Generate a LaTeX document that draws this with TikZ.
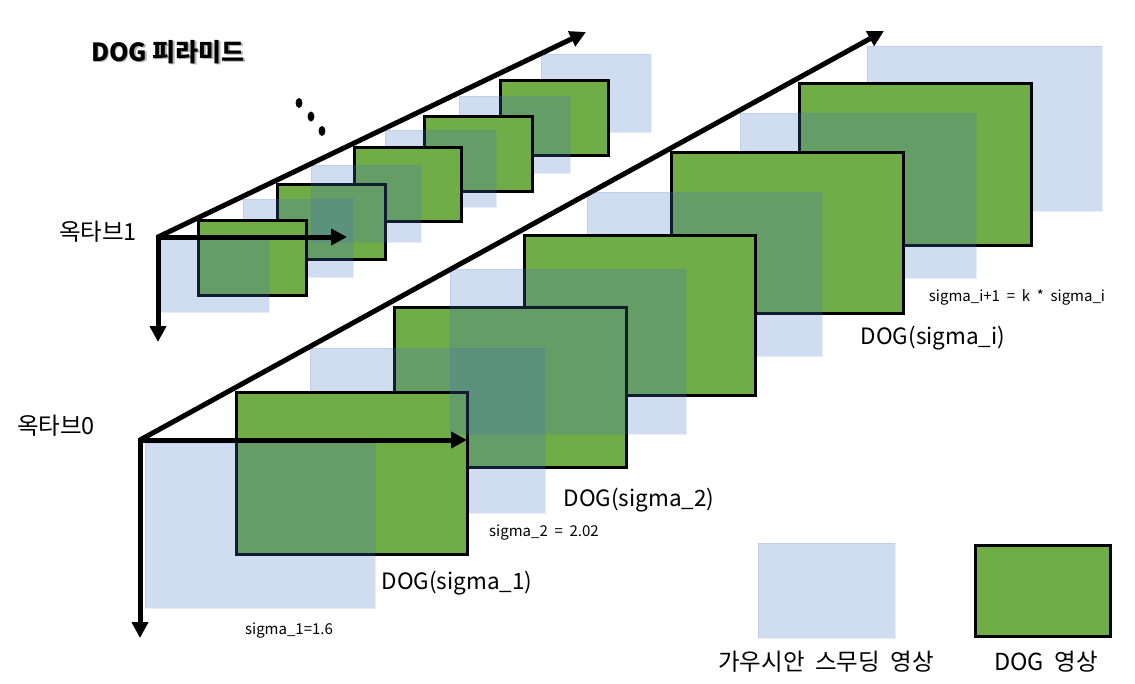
\documentclass[tikz,border=0pt]{standalone}
\usepackage{fontspec}
\setmainfont{Noto Sans CJK KR}
\usetikzlibrary{arrows.meta}
\definecolor{dgreen}{HTML}{70AD47}
\definecolor{gblue}{HTML}{4472C4}
\tikzset{
  gauss/.style={fill=gblue, fill opacity=0.25, draw=gblue, draw opacity=0.12, line width=1pt},
  dogbox/.style={fill=dgreen, draw=black, line width=3pt},
  axis/.style={line width=5pt, -{Triangle[length=16pt,width=16pt]}},
  big/.style={font=\fontsize{22.5}{25}\selectfont, inner sep=0pt},
  kor/.style={font=\fontsize{23.5}{26}\selectfont, inner sep=0pt},
  small/.style={font=\fontsize{15}{17}\selectfont, inner sep=0pt},
  dotmark/.style={fill=black},
}
\newcommand\gaussrect[4]{\draw[gauss] (#1,#2) rectangle (#3,#4);}
\newcommand\dogrect[4]{\draw[dogbox] ({#1+1.5},{#2+1.5}) rectangle ({#3-1.5},{#4-1.5});}
\newcommand\wsp{\hspace{0.45em}}
\begin{document}
\begin{tikzpicture}[x=1pt,y=-1pt]
\useasboundingbox (0,0) rectangle (1135,683);
% ---------- octave 1 (small) ----------
\gaussrect{541}{54}{651}{132}
\dogrect{499}{79}{610}{157}
\gaussrect{459}{96}{570}{173}
\dogrect{423}{115}{534}{193}
\gaussrect{385}{130}{496}{207}
\dogrect{353}{146}{463}{223}
\dogrect{276}{183}{387}{261}
\gaussrect{243}{199}{353}{277}
\dogrect{197}{219}{308}{297}
\gaussrect{160}{237}{269}{312}
\gaussrect{311}{165}{421}{242}
% ---------- octave 0 (large) ----------
\gaussrect{867}{46}{1102}{211}
\dogrect{798}{82}{1033}{247}
\gaussrect{740}{113}{976}{278}
\dogrect{670}{151}{905}{315}
\gaussrect{587}{192}{822}{356}
\dogrect{523}{234}{757}{397}
\dogrect{393}{306}{628}{469}
\gaussrect{310}{348}{545}{513}
\dogrect{235}{391}{469}{556}
\gaussrect{145}{443}{375}{608}
\gaussrect{450}{269}{686}{434}
% ---------- axes ----------
\coordinate (O1) at (158,237);
\coordinate (O1down) at (158,342);
\coordinate (O1right) at (347,237);
\coordinate (O1diag) at (586,32);
\coordinate (O0) at (140,440);
\coordinate (O0down) at (140,638);
\coordinate (O0right) at (467,440);
\coordinate (O0diag) at (884,31);
\draw[axis] ([yshift=2.5pt]O1) -- (O1down);
\draw[axis] ([xshift=-2.5pt]O1) -- (O1right);
\draw[axis] (O1) -- (O1diag);
\draw[axis] ([yshift=2.5pt]O0) -- (O0down);
\draw[axis] ([xshift=-2.5pt]O0) -- (O0right);
\draw[axis] (O0) -- (O0diag);
% ---------- dots ----------
\fill[dotmark] (299,103) ellipse [x radius=3.4, y radius=5];
\fill[dotmark] (311,116.5) ellipse [x radius=3.4, y radius=5];
\fill[dotmark] (322,131) ellipse [x radius=3.4, y radius=5];
% ---------- texts ----------
\node[big, font=\fontsize{25}{27}\selectfont\bfseries, text=black!60, opacity=0.5] (titleshadow) at (169.5,53.5) {DOG 피라미드};
\node[big, font=\fontsize{25}{27}\selectfont\bfseries] (title) at (168,52) {DOG 피라미드};
\node[kor] (oct1) at (98,232) {옥타브1};
\node[kor] (oct0) at (56,426) {옥타브0};
\node[big] (dog1) at (457,583) {DOG(sigma\_1)};
\node[small] (sig1) at (289,631) {sigma\_1=1.6};
\node[big] (dog2) at (639,500) {DOG(sigma\_2)};
\node[small] (sig2) at (544,533) {sigma\_2\wsp=\wsp2.02};
\node[big] (dogi) at (933,338) {DOG(sigma\_i)};
\node[small] (sigi) at (1017,297) {sigma\_i+1\wsp=\wsp k\wsp*\wsp sigma\_i};
% ---------- legend ----------
\gaussrect{758}{543}{895}{638}
\dogrect{974}{544}{1112}{638}
\node[kor] (leg1) at (826,662) {가우시안\wsp 스무딩\wsp 영상};
\node[kor] (leg2) at (1046,662) {DOG\wsp 영상};
\end{tikzpicture}
\end{document}
